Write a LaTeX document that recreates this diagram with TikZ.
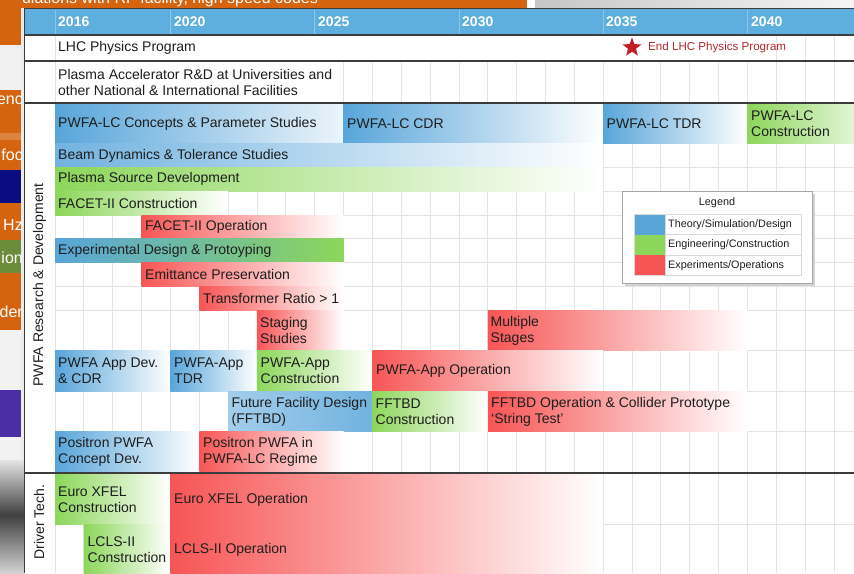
\documentclass[tikz,border=0pt]{standalone}
\usepackage{fontspec}
\setmainfont{Liberation Sans}
\usetikzlibrary{shapes.geometric}
\definecolor{cB}{RGB}{88,165,218}
\definecolor{cG}{RGB}{140,214,90}
\definecolor{cR}{RGB}{247,85,85}
\definecolor{hdr}{RGB}{94,174,223}
\definecolor{gridc}{RGB}{228,228,228}
\definecolor{sep}{RGB}{60,60,60}
\definecolor{txt}{RGB}{30,30,30}
\definecolor{orng}{RGB}{214,100,14}
\definecolor{navy}{RGB}{12,12,130}
\definecolor{olive}{RGB}{108,140,60}
\definecolor{indig}{RGB}{75,45,165}
\definecolor{starred}{RGB}{196,30,36}
\definecolor{endred}{RGB}{180,40,45}
\begin{document}
\begin{tikzpicture}[x=1pt,y=-1pt,
  lbl/.style={anchor=west, inner sep=0pt, align=left, text=txt, font=\fontsize{14}{16}\selectfont},
  yrlbl/.style={anchor=west, inner sep=0pt, text=white, font=\bfseries\fontsize{14}{16}\selectfont},
  frag/.style={anchor=east, inner sep=0pt, text=white, font=\fontsize{16}{16}\selectfont},
  leglbl/.style={anchor=west, inner sep=0pt, text=txt, font=\fontsize{10.8}{12}\selectfont},
  fB/.style={left color=cB, right color=white},
  fG/.style={left color=cG, right color=white},
  fR/.style={left color=cR, right color=white},
  sepline/.style={draw=sep, line width=2pt},
  gl/.style={draw=gridc, line width=0.8pt}]
\useasboundingbox (0,0) rectangle (854,573);
\fill[white] (0,0) rectangle (854,573);
% ---- background slide ----
\fill[orng] (0,0) rectangle (527,8);
\shade[left color=gray!45, right color=gray!8] (535,0) rectangle (854,8);
\begin{scope}
\clip (0,0) rectangle (527,8);
\node[anchor=base west, inner sep=0pt, text=white, font=\fontsize{16}{16}\selectfont] (toptext) at (-3,3.5) {simulations with RF facility, high speed codes};
\end{scope}
\fill[orng] (0,0) rectangle (21,45);
\fill[gray!12] (0,45) rectangle (21,90);
\fill[orng] (0,90) rectangle (21,133);
\fill[orng!80!white] (0,133) rectangle (21,140);
\fill[orng] (0,140) rectangle (21,170);
\fill[navy] (0,170) rectangle (21,203);
\fill[orng] (0,203) rectangle (21,240);
\fill[olive] (0,240) rectangle (21,273);
\fill[orng] (0,273) rectangle (21,330);
\fill[gray!10] (0,330) rectangle (21,390);
\fill[indig] (0,390) rectangle (21,437);
\fill[gray!10] (0,437) rectangle (21,460);
\shade[top color=gray!20, bottom color=black!75] (0,460) rectangle (24,515);
\shade[top color=black!75, bottom color=gray!35] (0,515) rectangle (24,573);
\fill[gray!15] (21,8) rectangle (24,460);
\begin{scope}
\clip (0,0) rectangle (21,573);
\node[frag] (f1) at (23,100) {enc};
\node[frag] (f2) at (23,155) {foc};
\node[frag] (f3) at (23,225) {Hz};
\node[frag] (f4) at (23,258) {ion};
\node[frag] (f5) at (23,312) {der};
\end{scope}
% ---- chart window ----
\fill[white] (24,8) rectangle (854,573);
\fill[hdr] (25,9) rectangle (854,34);
\foreach \i in {0,4,9,14,19,24} \draw[hdr!70!white] ({55+\i*28.85},9.5) -- ({55+\i*28.85},34);
% grid
\draw[gl] (55,34) -- (55,573);
\foreach \i in {1,...,27} \draw[gl] ({55+\i*28.85},102.5) -- ({55+\i*28.85},573);
\foreach \i in {10,...,27} \draw[gl] ({55+\i*28.85},61) -- ({55+\i*28.85},102.5);
\foreach \i in {25,...,27} \draw[gl] ({55+\i*28.85},34) -- ({55+\i*28.85},61);
\foreach \yy in {143,167,191,215,238.5,262.5,286.5,310,350,391,431.5,524} \draw[gl] (55,\yy) -- (854,\yy);
% bars
\shade[left color=cB, right color=cB!12] (55,103.5) rectangle (343.5,143);
\shade[fB] (343.5,103.5) rectangle (603.15,143);
\shade[fB] (603.15,103.5) rectangle (747.4,143);
\shade[left color=cG, right color=cG!25] (747.4,103.5) rectangle (854,143);
\shade[left color=cB!85, right color=white] (55,143) rectangle (603.15,167);
\shade[fG] (55,167) rectangle (603.15,191);
\shade[fG] (55,191) rectangle (228.1,215);
\shade[fR] (141.55,215) rectangle (343.5,238.5);
\shade[left color=cB, right color=cG] (55,238.5) rectangle (343.5,262.5);
\shade[fR] (141.55,262.5) rectangle (343.5,286.5);
\shade[fR] (199.25,286.5) rectangle (343.5,310);
\shade[fR] (256.95,310) rectangle (343.5,350);
\shade[fR] (487.75,310) rectangle (747.4,350);
\shade[fB] (55,350) rectangle (170.4,391);
\shade[fB] (170.4,350) rectangle (256.95,391);
\shade[fG] (256.95,350) rectangle (372.35,391);
\shade[fR] (372.35,350) rectangle (603.15,391);
\shade[left color=cB!55, right color=cB!85] (228.1,391) rectangle (372.35,431.5);
\shade[fG] (372.35,391) rectangle (487.75,431.5);
\shade[fR] (487.75,391) rectangle (747.4,431.5);
\shade[fB] (55,431.5) rectangle (199.25,471.5);
\shade[fR] (199.25,431.5) rectangle (343.5,471.5);
\shade[fG] (55,473.5) rectangle (170.4,524);
\shade[fR] (170.4,473.5) rectangle (603.15,524);
\shade[fG] (83.85,524) rectangle (170.4,573);
\shade[fR] (170.4,524) rectangle (603.15,573);
% separators and frame
\draw[sepline] (25,34.5) -- (854,34.5);
\draw[sepline] (25,61) -- (854,61);
\draw[sepline] (25,102.5) -- (854,102.5);
\draw[sepline] (25,472.5) -- (854,472.5);
\draw[draw=sep, line width=1.5pt] (24.5,8) -- (24.5,573);
\draw[draw=sep, line width=1.5pt] (24,8.5) -- (854,8.5);
% years
\node[yrlbl] (y16) at (58,22) {2016};
\node[yrlbl] (y20) at (174,22) {2020};
\node[yrlbl] (y25) at (318,22) {2025};
\node[yrlbl] (y30) at (462,22) {2030};
\node[yrlbl] (y35) at (606,22) {2035};
\node[yrlbl] (y40) at (751,22) {2040};
% top rows
\node[lbl] (lhc) at (58,48) {LHC Physics Program};
\node[star, star points=5, star point ratio=2.4, fill=starred, minimum size=20pt, inner sep=0pt] (star) at (632,47.5) {};
\node[anchor=west, inner sep=0pt, text=endred, font=\fontsize{11.6}{13}\selectfont] (endlhc) at (648,47) {End LHC Physics Program};
\node[lbl] (plasma) at (58,82) {Plasma Accelerator R\&D at Universities and\\other National \& International Facilities};
% side labels
\node[rotate=90, inner sep=0pt, text=txt, font=\fontsize{14}{16}\selectfont] (rnd) at (39.5,285) {PWFA Research \& Development};
\node[rotate=90, inner sep=0pt, text=txt, font=\fontsize{14}{16}\selectfont] (drv) at (39,522) {Driver Tech.};
% bar labels
\node[lbl] (t1) at (58,124) {PWFA-LC Concepts \& Parameter Studies};
\node[lbl] (t2) at (347,124) {PWFA-LC CDR};
\node[lbl] (t3) at (606.5,124) {PWFA-LC TDR};
\node[lbl] (t4) at (751,124) {PWFA-LC\\Construction};
\node[lbl] (t5) at (58,155.5) {Beam Dynamics \& Tolerance Studies};
\node[lbl] (t6) at (58,179) {Plasma Source Development};
\node[lbl] (t7) at (58,203) {FACET-II Construction};
\node[lbl] (t8) at (145,227) {FACET-II Operation};
\node[lbl] (t9) at (58,250.5) {Experimental Design \& Protoyping};
\node[lbl] (t10) at (145,274.5) {Emittance Preservation};
\node[lbl] (t11) at (203,298.5) {Transformer Ratio > 1};
\node[lbl] (t12) at (260,330.5) {Staging\\Studies};
\node[lbl] (t13) at (490.5,330.5) {Multiple\\Stages};
\node[lbl] (t14) at (58,371) {PWFA App Dev.\\\& CDR};
\node[lbl] (t15) at (174,371) {PWFA-App\\TDR};
\node[lbl] (t16) at (260.5,371) {PWFA-App\\Construction};
\node[lbl] (t17) at (376,371) {PWFA-App Operation};
\node[lbl] (t18) at (231.5,411.5) {Future Facility Design\\(FFTBD)};
\node[lbl] (t19) at (375.5,411.5) {FFTBD\\Construction};
\node[lbl] (t20) at (491,411.5) {FFTBD Operation \& Collider Prototype\\‘String Test’};
\node[lbl] (t21) at (58,452) {Positron PWFA\\Concept Dev.};
\node[lbl] (t22) at (203,452) {Positron PWFA in\\PWFA-LC Regime};
\node[lbl] (t23) at (58,499.5) {Euro XFEL\\Construction};
\node[lbl] (t24) at (174,500) {Euro XFEL Operation};
\node[lbl] (t25) at (87.5,549.5) {LCLS-II\\Construction};
\node[lbl] (t26) at (174,550) {LCLS-II Operation};
% legend
\fill[gray!35] (624.5,193.5) rectangle (814.5,285.5);
\draw[gray!70, line width=1pt, fill=white] (622,191) rectangle (812,283);
\node[inner sep=0pt, text=txt, font=\fontsize{10.8}{12}\selectfont] (legtitle) at (717,202.5) {Legend};
\fill[cB] (634,214) rectangle (665,234.5);
\fill[cG] (634,234.5) rectangle (665,255);
\fill[cR] (634,255) rectangle (665,275.5);
\draw[gray!30] (665,214) rectangle (801,234.5);
\draw[gray!30] (665,234.5) rectangle (801,255);
\draw[gray!30] (665,255) rectangle (801,275.5);
\draw[gray!30] (634,214) rectangle (665,275.5);
\node[leglbl] (l1) at (668,224.5) {Theory/Simulation/Design};
\node[leglbl] (l2) at (668,245) {Engineering/Construction};
\node[leglbl] (l3) at (668,265.5) {Experiments/Operations};
\end{tikzpicture}
\end{document}
